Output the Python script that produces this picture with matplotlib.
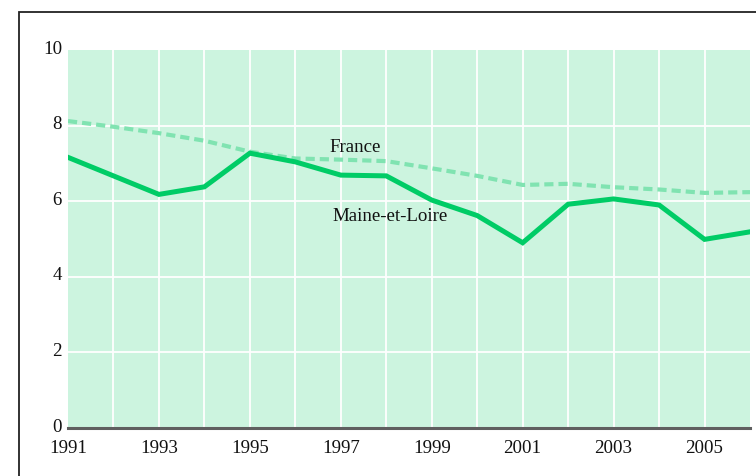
import matplotlib
matplotlib.use("Agg")
import matplotlib.pyplot as plt
from matplotlib.patches import Rectangle
import matplotlib.transforms as mtransforms

years = list(range(1991, 2007))
maine = [7.16, 6.67, 6.18, 6.38, 7.27, 7.04, 6.69, 6.67, 6.03, 5.62, 4.90, 5.92, 6.06, 5.90, 4.99, 5.19]
france = [8.12, 7.97, 7.80, 7.60, 7.31, 7.13, 7.10, 7.06, 6.87, 6.67, 6.43, 6.46, 6.37, 6.31, 6.22, 6.24]
xtick_labels = ["1991", "1993", "1995", "1997", "1999", "2001", "2003", "2005"]
ytick_values = [0, 2, 4, 6, 8, 10]

W, H = 756, 476
DPI = 100
plt.rcParams['font.family'] = ['Liberation Serif', 'DejaVu Serif']
fig = plt.figure(figsize=(W / DPI, H / DPI), dpi=DPI)

# plot area pixels: x 68..750, y 50..428 (from top)
left, right, top, bottom = 68, 750, 50, 428
ax = fig.add_axes([left / W, 1 - bottom / H, (right - left) / W, (bottom - top) / H])
ax.set_facecolor('#ccf4df')
ax.set_xlim(1991, 2006)
ax.set_ylim(0, 10)

for yr in years[1:-1]:
    ax.axvline(yr, color='white', lw=1.3, zorder=1)
for v in ytick_values[1:-1]:
    ax.axhline(v, color='white', lw=1.3, zorder=1)

ax.plot(years, france, color='#80e3b1', lw=3.0, dashes=[2.2, 1.2],
        dash_capstyle='butt', zorder=3)
ax.plot(years, maine, color='#00cc66', lw=3.6, solid_joinstyle='miter', zorder=4)

for s in ax.spines.values():
    s.set_visible(False)
ax.axhline(0, color='#5f5f5f', lw=2.2, zorder=5, clip_on=False)
ax.set_xticks([])
ax.set_yticks([])

fs = 13.6
# y tick labels
for v in ytick_values:
    off = mtransforms.ScaledTranslation(-6 / DPI, -3.5 / DPI, fig.dpi_scale_trans)
    ax.text(0, v, str(v), transform=ax.get_yaxis_transform() + off,
            ha='right', va='baseline', fontsize=fs, color='#111111')
# x tick labels
for lab in xtick_labels:
    off = mtransforms.ScaledTranslation(0, -12 / DPI, fig.dpi_scale_trans)
    ax.text(int(lab), 0, lab, transform=ax.get_xaxis_transform() + off,
            ha='center', va='top', fontsize=fs, color='#111111')

ax.text(1997.31, 7.41, 'France', ha='center', va='center', fontsize=fs, color='#111111', zorder=6)
ax.text(1998.08, 5.59, 'Maine-et-Loire', ha='center', va='center', fontsize=fs, color='#111111', zorder=6)

# outer frame (extends beyond right and bottom edges)
fig.patches.append(Rectangle((19 / W, -0.1), 1.2, 1 - 12 / H + 0.1,
                             transform=fig.transFigure, fill=False,
                             edgecolor='#222222', lw=1.3, zorder=0))

fig.savefig('out.png', dpi=DPI)
